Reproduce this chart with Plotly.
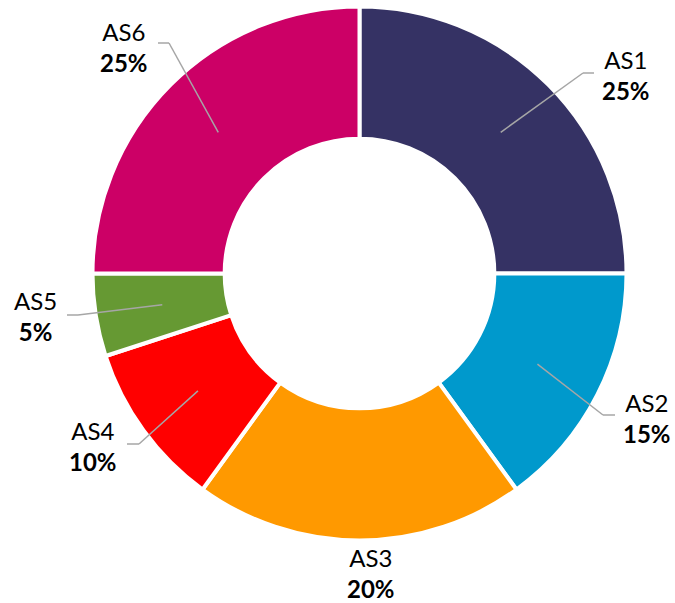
import plotly.graph_objects as go
import math

# ---- data ----
labels = ["AS1", "AS2", "AS3", "AS4", "AS5", "AS6"]
values = [25, 15, 20, 10, 5, 25]
colors = ["#353264", "#0099CC", "#FF9900", "#FF0000", "#669933", "#CC0066"]

# ---- layout (pixel geometry of the canvas) ----
W, H = 675, 603
CX, CY, R = 359.5, 273.5, 264.5
R_DOMAIN = 267
# label text block centres and leader elbows / ends (pixels)
label_xy = [(626, 75), (647, 418), (371, 573), (93, 446), (35, 316), (124, 47)]
leader_pts = [
    [(583, 73), (594, 73)],
    [(603, 415), (615, 415)],
    None,
    [(139, 444), (127, 444)],
    [(78, 315), (67, 315)],
    [(169, 43), (158, 43)],
]

def px(x):
    return x / W

def py(y):
    return 1 - y / H

fig = go.Figure(go.Pie(
    labels=labels,
    values=values,
    sort=False,
    direction="clockwise",
    rotation=0,
    hole=0.505,
    marker=dict(colors=colors, line=dict(color="white", width=4)),
    textinfo="none",
    showlegend=False,
    domain=dict(x=[px(CX - R_DOMAIN), px(CX + R_DOMAIN)],
                y=[py(CY + R_DOMAIN), py(CY - R_DOMAIN)]),
))

total = sum(values)
cum = 0
annotations = []
shapes = []
for i, (lab, v) in enumerate(zip(labels, values)):
    mid = (cum + v / 2) / total * 2 * math.pi
    cum += v
    pct = round(v / total * 100)
    tx, ty = label_xy[i]
    annotations.append(dict(
        x=px(tx), y=py(ty), xref="paper", yref="paper",
        text=f"{lab}<br><b>{pct}%</b>", showarrow=False,
        xanchor="center", yanchor="middle",
        font=dict(family="Lato", size=24, color="#000000"),
    ))
    if leader_pts[i] is not None:
        ix = CX + 0.755 * R * math.sin(mid)
        iy = CY - 0.755 * R * math.cos(mid)
        pts = [(ix, iy)] + leader_pts[i]
        for (x0, y0), (x1, y1) in zip(pts[:-1], pts[1:]):
            shapes.append(dict(
                type="line", xref="paper", yref="paper",
                x0=px(x0), y0=py(y0), x1=px(x1), y1=py(y1),
                line=dict(color="#A6A6A6", width=1.5),
            ))

fig.update_layout(
    width=W, height=H,
    margin=dict(l=0, r=0, t=0, b=0),
    paper_bgcolor="white", plot_bgcolor="white",
    annotations=annotations, shapes=shapes,
)

fig.write_html("out.html", config={"displayModeBar": False},
               post_script="document.body.style.margin='0';document.body.style.overflow='hidden';")
